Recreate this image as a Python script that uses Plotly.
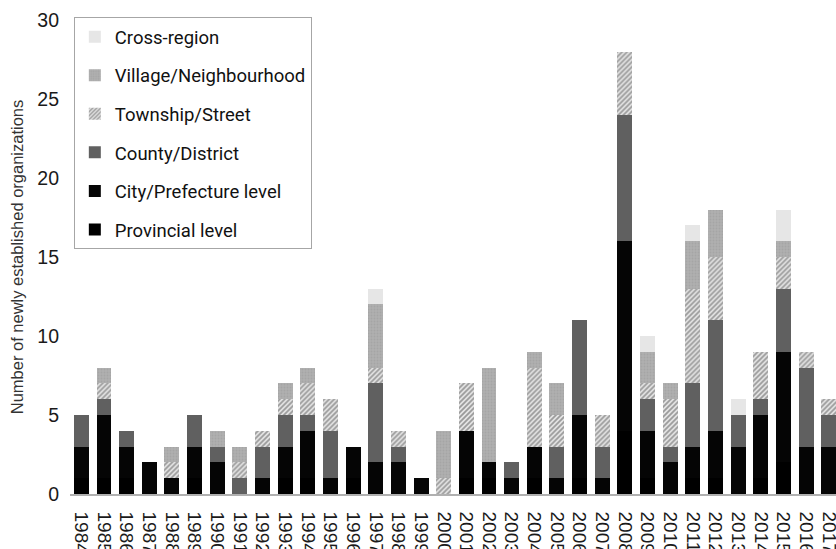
import plotly.graph_objects as go

years = [str(y) for y in range(1984, 2018)]

provincial = [1, 1, 1, 0, 0, 1, 0, 0, 0, 1, 1, 0, 1, 0, 0, 0, 0, 1, 1, 0, 1, 0, 1, 0, 4, 1, 0, 1, 1, 0, 1, 2, 0, 0]
city =       [2, 4, 2, 2, 1, 2, 2, 0, 1, 2, 3, 1, 2, 2, 2, 1, 0, 3, 1, 1, 2, 1, 4, 1, 12, 3, 2, 2, 3, 3, 4, 7, 3, 3]
county =     [2, 1, 1, 0, 0, 2, 1, 1, 2, 2, 1, 3, 0, 5, 1, 0, 0, 0, 0, 1, 0, 2, 6, 2, 8, 2, 1, 4, 7, 2, 1, 4, 5, 2]
township =   [0, 1, 0, 0, 1, 0, 0, 1, 1, 1, 2, 2, 0, 1, 1, 0, 1, 3, 0, 0, 5, 2, 0, 2, 4, 1, 3, 6, 4, 0, 3, 2, 1, 1]
village =    [0, 1, 0, 0, 1, 0, 1, 1, 0, 1, 1, 0, 0, 4, 0, 0, 3, 0, 6, 0, 1, 2, 0, 0, 0, 2, 1, 3, 3, 0, 0, 1, 0, 0]
cross =      [0, 0, 0, 0, 0, 0, 0, 0, 0, 0, 0, 0, 0, 1, 0, 0, 0, 0, 0, 0, 0, 0, 0, 0, 0, 1, 0, 1, 0, 1, 0, 2, 0, 0]

series = [
    ("Provincial level", provincial, dict(color="#000000")),
    ("City/Prefecture level", city, dict(color="#050505")),
    ("County/District", county, dict(color="#606060")),
    ("Township/Street", township, dict(color="#ffffff",
        pattern=dict(shape="/", fgcolor="#4d4d4d", bgcolor="#e6e6e6", size=3.5, solidity=0.5, fillmode="overlay"))),
    ("Village/Neighbourhood", village, dict(color="#a9a9a9",
        pattern=dict(shape=".", fgcolor="#9a9a9a", bgcolor="#b0b0b0", size=3, solidity=0.4, fillmode="overlay"))),
    ("Cross-region", cross, dict(color="#e6e6e6")),
]

fig = go.Figure()
n = len(series)
for i, (name, vals, marker) in enumerate(series):
    fig.add_trace(go.Bar(
        x=years, y=vals, name=name, legendgroup=name, legendrank=n - i,
        marker=dict(line=dict(width=0), **marker),
    ))

fig.update_layout(
    width=836, height=549,
    barmode="stack", bargap=0.34,
    paper_bgcolor="white", plot_bgcolor="white",
    margin=dict(l=70, r=0, t=20, b=55),
    font=dict(family="Liberation Sans, Arial, sans-serif", color="#1a1a1a"),
    legend=dict(
        x=0.005, y=1.006, xanchor="left", yanchor="top",
        traceorder="grouped", tracegroupgap=11.5,
        bordercolor="#a6a6a6", borderwidth=1, bgcolor="white",
        font=dict(family="Roboto, sans-serif", size=18.5, color="#111111"),
        itemwidth=30,
    ),
    xaxis=dict(
        type="category", range=[-0.5, 33.32], automargin=False,
        tickmode="array", tickvals=years, ticktext=years,
        tickangle=90, tickfont=dict(size=19, color="#1a1a1a"),
        showline=True, linecolor="#b0b0b0", linewidth=1.5,
        ticks="", ticklabelstandoff=12, showgrid=False, zeroline=False,
    ),
    yaxis=dict(
        range=[0, 30], dtick=5, automargin=False,
        tickfont=dict(size=19.5, color="#1a1a1a"),
        showline=False, ticks="", showgrid=False, zeroline=False,
        ticklabelstandoff=10,
        title=dict(text="Number of newly established organizations",
                   font=dict(size=16.5, color="#333333"), standoff=9),
    ),
)

fig.write_html(
    "out.html",
    config={"displayModeBar": False},
    post_script="document.body.style.margin='0';document.body.style.overflow='hidden';",
)
